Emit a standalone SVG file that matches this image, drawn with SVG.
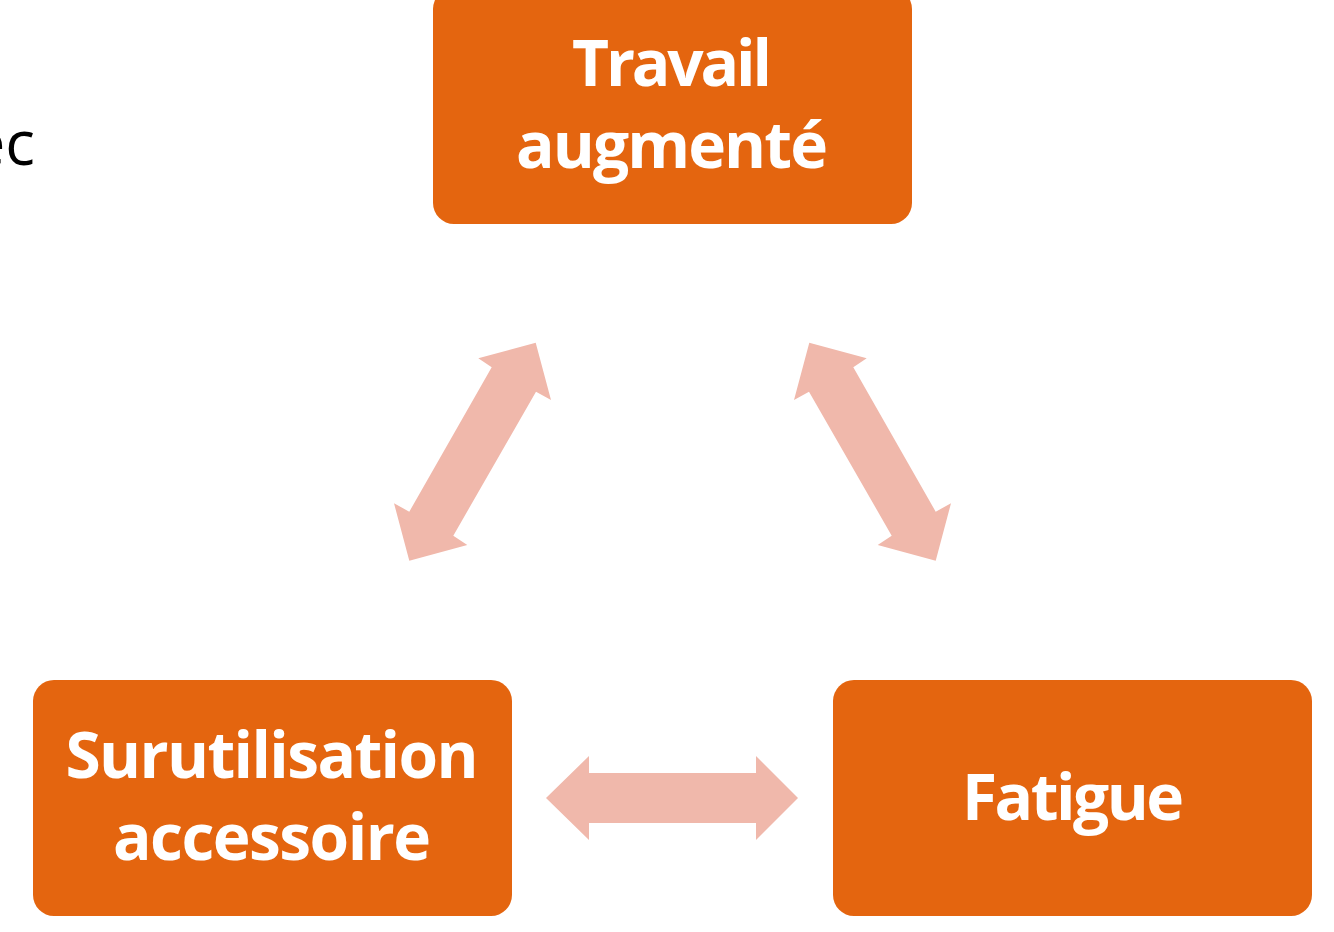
<svg xmlns="http://www.w3.org/2000/svg" width="1334" height="932" viewBox="0 0 1334 932">
<style>
.box{fill:#E4650F;}
.lbl{font-family:"Open Sans","Noto Sans",sans-serif;font-weight:bold;font-size:64px;fill:#fff;text-anchor:middle;}
.arr{fill:#F0B8AB;}
</style>
<rect width="1334" height="932" fill="#fff"/>
<text x="35" y="165" font-family="'Open Sans','Noto Sans',sans-serif" font-size="62" fill="#000" text-anchor="end">ec</text>
<g id="connectors">
<polygon class="arr" points="546,798 589,756 589,773 756,773 756,756 798,798 756,840 756,823 589,823 589,840"/>
<polygon class="arr" points="535.7,342.7 551,400 536,391.7 453.3,535.7 467.3,545 409.3,560.7 394,503.3 409.3,511.7 491.7,367.3 478.3,358.3"/>
<polygon class="arr" points="809.3,342.7 794,400 809,391.7 891.7,535.7 877.7,545 935.7,560.7 951,503.3 935.7,511.7 853.3,367.3 866.7,358.3"/>
</g>
<g id="node-travail">
<rect class="box" x="433" y="-12" width="479" height="236" rx="21"/>
<text class="lbl" x="672" y="86" textLength="200">Travail</text>
<text class="lbl" x="672" y="168" textLength="312">augmenté</text>
</g>
<g id="node-surutilisation">
<rect class="box" x="33" y="680" width="479" height="236" rx="21"/>
<text class="lbl" x="272" y="778" textLength="413">Surutilisation</text>
<text class="lbl" x="272" y="860" textLength="318">accessoire</text>
</g>
<g id="node-fatigue">
<rect class="box" x="833" y="680" width="479" height="236" rx="21"/>
<text class="lbl" x="1073" y="820" textLength="222">Fatigue</text>
</g>
</svg>
